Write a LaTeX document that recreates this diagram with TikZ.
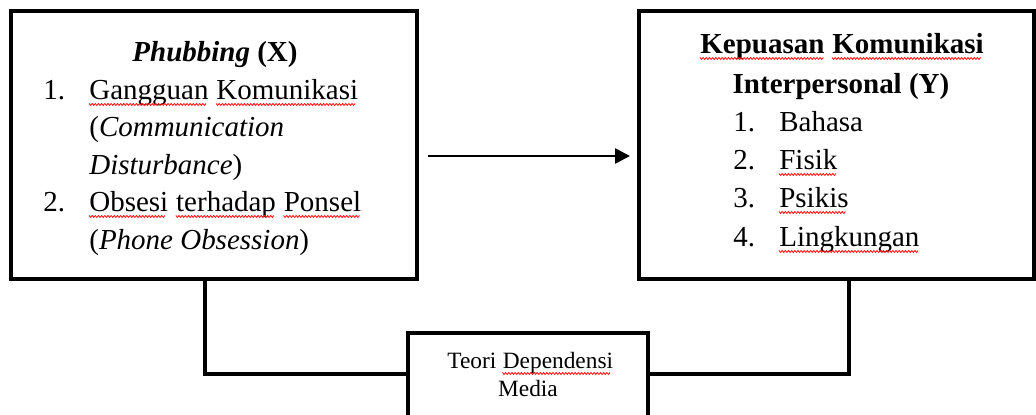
\documentclass[tikz,border=0pt]{standalone}
\usepackage{fontspec}
\setmainfont{Liberation Serif}
\usetikzlibrary{arrows.meta}

\begin{document}
\begin{tikzpicture}[x=0.02cm,y=-0.02cm,
  box/.style={draw,line width=2.3pt,inner sep=0pt},
  link/.style={line width=2.3pt},
  arrow/.style={line width=1.5pt,-{Triangle[length=8.5pt,width=8.5pt]}},
  txt/.style={inner sep=0pt,anchor=base west,font=\fontsize{16.5}{20}\selectfont},
  small/.style={inner sep=0pt,anchor=base west,font=\fontsize{13.3}{16}\selectfont},
  typo/.style={draw=red!90!white,line width=0.5pt,line join=round}]
  \useasboundingbox (0,0) rectangle (1036,415);
  \node[box,minimum width=8.12cm,minimum height=5.36cm] (phub) at (214,145) {};
  \node[box,minimum width=7.9cm,minimum height=5.36cm] (kep) at (836.5,145) {};
  \node[box,minimum width=4.8cm,minimum height=2.6cm] (teori) at (528,398) {};

  \node[txt,anchor=base] (phubhead) at (215,62) {\textbf{\textit{Phubbing} (X)}};
  \node[txt] (pnum1) at (43,100) {1.};
  \node[txt] (gang) at (89,100) {Gangguan};
  \node[txt,xshift=4.1pt] (komu) at (gang.base east) {Komunikasi};
  \node[txt] (pitem1b) at (89,137) {(\textit{Communication}};
  \node[txt] (pitem1c) at (89,175) {\textit{Disturbance})};
  \node[txt] (pnum2) at (43,212) {2.};
  \node[txt] (obs) at (89,212) {Obsesi};
  \node[txt,xshift=4.1pt] (ter) at (obs.base east) {terhadap};
  \node[txt,xshift=4.1pt] (pon) at (ter.base east) {Ponsel};
  \node[txt] (pitem2b) at (89,250) {(\textit{Phone Obsession})};

  \node[txt] (kepu) at (700,54) {\textbf{Kepuasan}};
  \node[txt,xshift=4.1pt] (komu2) at (kepu.base east) {\textbf{Komunikasi}};
  \node[txt,anchor=base] (kephead2) at (841,94) {\textbf{Interpersonal (Y)}};
  \node[txt] (knum1) at (733,132) {1.};
  \node[txt] (bhs) at (779,132) {Bahasa};
  \node[txt] (knum2) at (733,170) {2.};
  \node[txt] (fis) at (779,170) {Fisik};
  \node[txt] (knum3) at (733,208) {3.};
  \node[txt] (psi) at (779,208) {Psikis};
  \node[txt] (knum4) at (733,247) {4.};
  \node[txt] (ling) at (779,247) {Lingkungan};

  \node[small] (teo) at (447,369) {Teori};
  \node[small,xshift=3.3pt] (dep) at (teo.base east) {Dependensi};
  \node[small,anchor=base] (media) at (528,397) {Media};

  \foreach \w/\cnt in {gang/37,komu/44,obs/24,ter/31,pon/24,kepu/39,komu2/47,fis/18,psi/21,ling/44,dep/34}
    \path[typo] ([yshift=-2pt]\w.base west)
      \foreach \k in {1,...,\cnt} {-- ++(0.9pt,-1.1pt) -- ++(0.9pt,1.1pt)};

  \draw[arrow,shorten <=5pt,shorten >=4pt] (phub.east |- 0,156) -- (kep.west |- 0,156);
  \draw[link] (phub.south -| 205,0) |- (teori.west |- 0,374);
  \draw[link] (kep.south -| 849,0) |- (teori.east |- 0,374);
\end{tikzpicture}
\end{document}
